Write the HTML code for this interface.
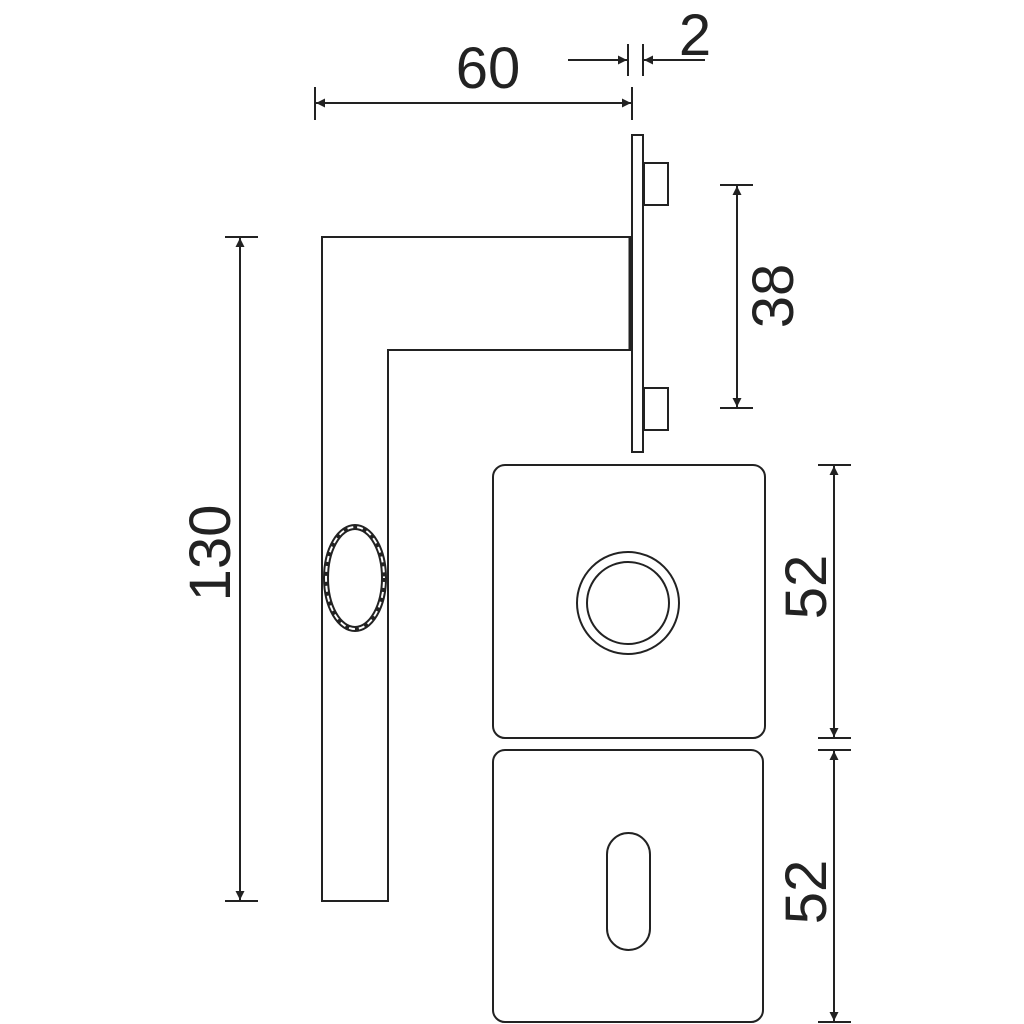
<!DOCTYPE html>
<html><head><style>html,body{margin:0;padding:0;background:#fff}svg{display:block}</style></head>
<body>
<svg width="1024" height="1024" viewBox="0 0 1024 1024" xmlns="http://www.w3.org/2000/svg">
<defs>
<marker id="a" viewBox="0 0 10 10" refX="10" refY="5" markerWidth="22" markerHeight="9" markerUnits="userSpaceOnUse" orient="auto-start-reverse"><path d="M0,0 L10,5 L0,10 z" fill="#222"/></marker>
</defs>
<g fill="none" stroke="#222" stroke-width="2">
<!-- rose plate -->
<rect x="632" y="135" width="11" height="317"/>
<rect x="644" y="163" width="24" height="42"/>
<rect x="644" y="388" width="24" height="42"/>
<!-- handle -->
<path d="M322,237 H630 V350 H388 V901 H322 Z"/>
<line x1="630" y1="237" x2="630" y2="350" stroke-width="3"/>
<!-- ellipse section -->
<ellipse cx="355" cy="578" rx="31" ry="53"/>
<ellipse cx="355" cy="578" rx="27" ry="49"/>
<ellipse cx="355" cy="578" rx="29" ry="51" stroke-width="3" stroke-dasharray="4 6"/>
<!-- square roses -->
<rect x="493" y="465" width="272" height="273" rx="12"/>
<rect x="493" y="750" width="270" height="272" rx="12"/>
<circle cx="628" cy="603" r="51"/>
<circle cx="628" cy="603" r="41"/>
<rect x="607" y="833" width="43" height="117" rx="21.5"/>
<!-- dimension 60 / 2 -->
<line x1="315" y1="87" x2="315" y2="120"/>
<line x1="632" y1="87" x2="632" y2="120"/>
<line x1="316" y1="103" x2="631" y2="103" marker-start="url(#a)" marker-end="url(#a)"/>
<line x1="628" y1="44" x2="628" y2="76"/>
<line x1="643" y1="44" x2="643" y2="76"/>
<line x1="568" y1="60" x2="627" y2="60" marker-end="url(#a)"/>
<line x1="705" y1="60" x2="644" y2="60" marker-end="url(#a)"/>
<!-- 130 -->
<line x1="225" y1="237" x2="258" y2="237"/>
<line x1="225" y1="901" x2="258" y2="901"/>
<line x1="240" y1="238" x2="240" y2="900" marker-start="url(#a)" marker-end="url(#a)"/>
<!-- 38 -->
<line x1="720" y1="185" x2="753" y2="185"/>
<line x1="720" y1="408" x2="753" y2="408"/>
<line x1="737" y1="186" x2="737" y2="407" marker-start="url(#a)" marker-end="url(#a)"/>
<!-- 52 x2 -->
<line x1="818" y1="465" x2="851" y2="465"/>
<line x1="818" y1="738" x2="851" y2="738"/>
<line x1="818" y1="750" x2="851" y2="750"/>
<line x1="818" y1="1022" x2="851" y2="1022"/>
<line x1="834" y1="466" x2="834" y2="737" marker-start="url(#a)" marker-end="url(#a)"/>
<line x1="834" y1="751" x2="834" y2="1021" marker-start="url(#a)" marker-end="url(#a)"/>
</g>
<g font-family="Liberation Sans, sans-serif" font-size="58" fill="#222">
<text x="488" y="88" text-anchor="middle">60</text>
<text x="695" y="55" text-anchor="middle">2</text>
<text transform="translate(230,553) rotate(-90)" text-anchor="middle">130</text>
<text transform="translate(793,296) rotate(-90)" text-anchor="middle">38</text>
<text transform="translate(826,587) rotate(-90)" text-anchor="middle">52</text>
<text transform="translate(826,892) rotate(-90)" text-anchor="middle">52</text>
</g>
</svg>
</body></html>
